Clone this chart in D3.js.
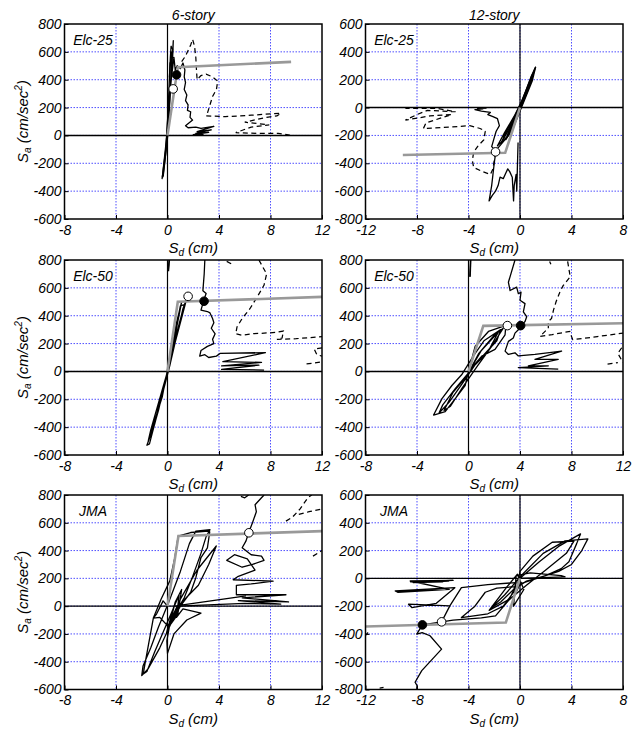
<!DOCTYPE html>
<html>
<head>
<meta charset="utf-8">
<script src="https://cdn.jsdelivr.net/npm/d3@7"></script>
<style>
  body { margin: 0; background: #fff; }
  text { font-family: "Liberation Sans", Arial, sans-serif; font-style: italic; fill: #000; }
</style>
</head>
<body>
<div id="chart"></div>
<script>
// tick values
const xTicksA = [-8, -4, 0, 4, 8, 12];
const xTicksB = [-12, -8, -4, 0, 4, 8];
const yTicksA = [-600, -400, -200, 0, 200, 400, 600, 800];
const yTicksB = [-800, -600, -400, -200, 0, 200, 400, 600];

const colTitles = ["6-story", "12-story"];
const rowLabels = ["Elc-25", "Elc-50", "JMA"];

// ---- 6-story, Elc-25
const gray1 = [[0, 0], [0.8, 490], [9.6, 528]];
const solid1 = [
  [[0, 0], [-0.42, -310], [-0.3, -240], [0.05, 50], [0.3, 450], [0.45, 680], [0.4, 560], [0.2, 520], [0.15, 420],
   [0.3, 600], [0.35, 480], [0.1, 250], [-0.1, -100], [-0.35, -290], [-0.2, -180], [0.15, 300], [0.5, 560],
   [0.6, 470], [0.75, 500], [1.0, 480], [1.2, 520], [1.35, 470], [1.3, 420], [1.4, 380], [1.3, 330], [1.5, 290],
   [1.4, 250], [1.6, 220], [1.55, 180], [1.8, 170], [1.75, 130], [1.95, 110], [1.4, 70], [1.6, 55], [2.2, 60],
   [2.6, 50], [3.6, 65], [2.3, 28], [3.4, 40], [2.2, 15], [3.2, 22], [2.0, 5], [2.8, 8]],
  [[0, 0], [-0.38, -300], [-0.33, -290], [0.02, 0], [0.25, 380], [0.4, 620], [0.28, 640], [0.22, 560],
   [0.1, 300], [-0.05, 0], [-0.4, -300]]
];
const dashed1 = [
  [[1.1, 530], [1.4, 570], [1.55, 600], [1.8, 650], [1.95, 690], [2.1, 640], [2.2, 560], [2.25, 470], [2.3, 400],
   [2.6, 430], [3.0, 440], [3.5, 420], [3.9, 390], [3.8, 330], [3.5, 280], [3.3, 220], [3.1, 160], [3.0, 140],
   [4.5, 135], [6.5, 145], [8.8, 160], [8.5, 140], [7.7, 130], [6.0, 95], [7.0, 85], [7.9, 75], [6.5, 60],
   [5.3, 20], [7.0, 15], [8.6, 15], [9.5, 3]]
];
const open1 = [0.44, 334];
const filled1 = [0.7, 435];

// ---- 12-story, Elc-25
const gray2 = [[0, 0], [-1.15, -325], [-9.1, -340]];
const solid2 = [
  [[0, 0], [1.2, 290], [0.6, 120], [-0.5, -130], [-1.0, -210], [-0.6, -120], [0.3, 80], [1.1, 270], [0.9, 200],
   [-0.2, -50], [-1.3, -220], [-1.5, -260], [-1.0, -180], [0.2, 60], [1.0, 250], [1.15, 280], [0.5, 130],
   [-0.8, -190], [-1.8, -300], [-1.9, -330], [-2.0, -400], [-2.1, -480], [-2.2, -560], [-2.4, -670],
   [-2.15, -630], [-1.9, -600], [-1.7, -560], [-1.55, -500], [-1.3, -510], [-1.1, -470], [-0.95, -440],
   [-0.8, -460], [-0.6, -500], [-0.5, -670], [-0.45, -560], [-0.3, -480], [-0.25, -600], [-0.2, -420], [-0.15, -250]],
  [[-1.3, -216], [-0.7, -110], [0.1, 40], [0.8, 200], [1.21, 289], [0.95, 190], [0.2, 20], [-0.5, -140],
   [-1.1, -230], [-0.6, -100], [0.4, 100], [1.05, 250], [0.7, 140], [-0.1, -30], [-0.9, -200], [-1.75, -275],
   [-1.2, -180], [0.0, 10], [0.9, 230], [1.15, 270]],
  [[-1.9, -310], [-2.2, -280], [-1.95, -200], [-1.85, -170], [-1.6, -130], [-1.75, -80], [-2.1, -65], [-2.5, -50],
   [-2.3, -35], [-3.0, -25], [-3.5, -15], [-2.9, -10], [-3.3, -5], [-2.6, -3]]
];
const dashed2 = [
  [[-1.9, -320], [-2.0, -380], [-2.1, -440], [-2.3, -480], [-2.9, -460], [-3.6, -430], [-3.7, -380], [-3.6, -320],
   [-3.3, -280], [-2.8, -230], [-2.7, -170], [-3.1, -150], [-3.9, -130], [-5.5, -140], [-7.5, -150], [-7.3, -110],
   [-5.3, -50], [-7.0, -60], [-8.9, -90], [-8.0, -50], [-7.2, -20], [-5.0, -30], [-6.5, -5], [-8.9, -5]]
];
const open2 = [-1.9, -318];
const filled2 = null;

// ---- 6-story, Elc-50
const gray3 = [[0, 0], [0.8, 500], [12, 535]];
const solid3 = [
  [[0, 0], [1.5, 525], [1.2, 450], [0.2, 50], [-1.0, -380], [-1.6, -530], [-1.4, -520], [-0.5, -200], [0.5, 200],
   [1.3, 480], [1.0, 470], [-0.1, -40], [-1.2, -440], [-0.7, -280], [0.3, 120], [1.1, 500], [0.7, 350],
   [-0.4, -180], [-1.5, -500], [-1.3, -420], [0, 0]],
  [[2.9, 800], [2.85, 700], [2.75, 580], [3.0, 560], [2.85, 520], [2.6, 440], [3.1, 430], [3.3, 420], [3.5, 380],
   [3.6, 350], [3.4, 310], [3.7, 270], [3.5, 230], [3.6, 200], [3.1, 180], [2.6, 150], [2.5, 110], [2.9, 120],
   [3.2, 100], [3.8, 110], [4.1, 130], [7.6, 135], [4.3, 70], [7.3, 65], [4.2, 40], [7.1, 45], [4.2, 15], [7.5, 10]],
  [[0.05, 720], [0.12, 800]],
  [[0.08, 720], [0.15, 800]]
];
const dashed3 = [
  [[4.6, 790], [5.0, 770]],
  [[7.1, 800], [7.4, 750], [7.7, 700], [7.5, 620], [7.0, 540], [6.4, 450], [5.8, 380], [5.4, 320], [5.3, 270],
   [5.8, 260], [6.5, 270], [7.5, 275], [8.4, 280], [9.0, 290], [8.9, 240], [8.5, 230], [10.0, 235], [12, 250]],
  [[12, 170], [11.4, 160], [11.6, 120], [12, 110]],
  [[10.8, 55], [11.4, 60], [12, 70]]
];
const open3 = [1.6, 539];
const filled3 = [2.84, 504];

// ---- 12-story, Elc-50
const gray4 = [[0, 0], [1.15, 327], [12, 346]];
const solid4 = [
  [[0, 0], [0.52, 181], [1.55, 287], [2.9, 330], [2.84, 263], [2.06, 158], [1.03, 110], [0, 0], [-0.26, -101],
   [-1.03, -195], [-1.81, -289], [-2.71, -313], [-2.06, -195], [-1.29, -101], [-0.5, -20], [0.3, 100], [1.2, 220],
   [2.5, 300], [2.2, 220], [1.5, 150], [0.6, 60], [-0.5, -90], [-1.5, -220], [-2.3, -300], [-2.0, -240],
   [-1.0, -120], [0, -10], [0.8, 130], [2.0, 260], [2.7, 310], [1.8, 180], [0.7, 40], [-0.5, -120],
   [-1.4, -250], [-1.9, -280], [-1.2, -150], [-0.2, -40], [1.0, 150], [2.3, 280], [1.5, 140], [0, 0]],
  [[3.61, 800], [3.10, 640], [3.23, 581], [3.74, 605], [3.87, 558], [4.08, 569], [4.0, 511], [4.39, 487],
   [4.26, 428], [4.52, 393], [4.39, 358], [4.08, 329], [3.87, 299], [3.61, 275], [3.48, 240], [3.1, 216],
   [2.84, 146], [3.1, 122], [3.61, 134], [3.87, 111], [5.16, 122], [7.23, 146], [5.16, 87], [6.97, 87],
   [4.65, 40], [6.2, 40], [3.87, 28], [6.97, 16]],
  [[0.1, 680], [0.15, 800]],
  [[0.13, 680], [0.18, 800]]
];
const dashed4 = [
  [[6.3, 790], [6.4, 770]],
  [[7.7, 790], [7.9, 680], [7.35, 616], [7.1, 570], [6.8, 500], [6.6, 440], [6.45, 380], [6.2, 358], [6.2, 310],
   [5.55, 252], [6.5, 265], [7.87, 287], [8.0, 250], [8.1, 228], [10, 250], [12, 275]],
  [[11.9, 170], [11.6, 130], [12, 64]],
  [[10.8, 52], [11.6, 64]]
];
const open4 = [3.02, 329];
const filled4 = [4.05, 329];

// ---- 6-story, JMA
const gray5 = [[0, 0], [0.85, 505], [12, 540]];
const solid5 = [
  [[0, 0], [-0.34, 38], [-0.85, -57], [-1.1, -86], [-1.75, -416], [-1.88, -488], [-1.6, -470], [-1.0, -330],
   [-0.4, -200], [0.3, -50], [0.9, 80], [0.7, -80], [1.2, -20], [2.6, -50], [1.5, -100], [0.5, -200], [0, -340],
   [-0.05, -250], [0.2, -120], [0.6, 30], [1.1, 120], [0.8, -60], [0.1, -150], [-0.6, -81], [-1.1, -86],
   [-0.5, 50], [0.18, 182], [0.57, 349], [0.83, 504], [1.8, 530], [3.15, 540], [3.28, 535], [3.1, 420],
   [2.6, 350], [2.2, 205], [1.8, 100], [1.0, 0], [0.3, -120], [-0.6, -300], [-1.5, -450], [-2.0, -500],
   [-1.9, -430], [-1.3, -300], [-0.7, -150], [0.1, 30], [1.0, 250], [1.7, 450], [2.2, 540], [3.3, 550],
   [3.0, 500], [2.6, 380], [1.9, 200], [1.3, 60], [0.6, -50], [0, -150], [1.0, 50], [2.3, 260], [3.79, 433],
   [3.2, 300], [2.4, 150], [1.47, 62], [0.5, -50], [-0.1, -200], [0.5, 0], [6.1, 74]],
  [[6.3, 528], [6.6, 600], [6.9, 680], [6.8, 730], [7.3, 780], [7.5, 800]],
  [[6.3, 528], [6.1, 470], [5.8, 420], [6.5, 370], [7.3, 360], [7.5, 330], [6.6, 300], [5.8, 280], [4.6, 330],
   [5.2, 370], [6.2, 340], [6.8, 260], [5.5, 215], [5.1, 190], [8.2, 180], [6.5, 160], [5.35, 150], [5.35, 82],
   [9.2, 82], [5.8, 60], [9.4, 30], [5.5, 40], [8.8, 15], [6.0, 20], [0.8, 0]],
  [[5.7, 790], [6.0, 780], [6.3, 800]]
];
const dashed5 = [
  [[9.2, 612], [9.7, 640], [10.3, 700], [10.9, 780], [11.2, 800]],
  [[10.2, 660], [11.0, 680], [12, 700]],
  [[11.3, 360], [12, 400]]
];
const open5 = [6.32, 528];
const filled5 = null;

// ---- 12-story, JMA
const gray6 = [[0, 0], [-1.1, -318], [-12, -346]];
const solid6 = [
  [[0, 0], [1.5, 120], [3.0, 230], [4.7, 320], [4.4, 250], [3.8, 120], [3.2, 70], [2.0, 20], [0.5, -20],
   [-0.5, -80], [-1.5, -170], [-2.2, -210], [-1.2, -120], [0.2, 30], [1.8, 180], [3.5, 270], [5.27, 284],
   [4.8, 200], [4.0, 100], [3.0, 50], [1.5, 5], [0, -40], [-0.3, -100], [0, 50], [1, 160], [2.5, 260],
   [4.19, 268], [3.6, 180], [2.0, 60], [0.5, -50], [-0.8, -150], [-1.8, -200], [-2.4, -230], [-1.0, -60],
   [-0.2, 30], [0.3, -80], [-0.5, -200], [-0.3, 20], [0.8, 40], [3.2, 20], [3.5, 10], [0, 0]],
  [[-6.09, -313], [-5.45, -198], [-4.55, -67], [-2.5, -45], [-0.3, -30], [-0.5, -100], [-1.3, -200],
   [-2.5, -255], [-4.55, -282], [-3.5, -200], [-2.7, -100], [-1.8, -70], [-0.4, -60], [-0.8, -150],
   [-1.9, -270], [-3.0, -285], [-5.2, -300], [-6.09, -313]],
  [[-5.45, -198], [-8.66, -186], [-8.4, -210], [-6.5, -180], [-5.06, -67], [-9.69, -91], [-9.5, -100],
   [-5.5, -80], [-8.53, -19], [-5.19, -14], [-8.5, -25], [-6.0, -25], [-8.3, -30], [-5.5, -20]],
  [[-6.09, -313], [-7.58, -335], [-8.02, -401], [-7.6, -390], [-6.99, -413], [-6.09, -509], [-7.63, -664],
   [-8.15, -748], [-8.0, -770], [-8.02, -800]],
  [[-10.9, -790], [-10.6, -785]],
  [[-12, -410], [-11.8, -390]]
];
const dashed6 = [];
const open6 = [-6.09, -313];
const filled6 = [-7.58, -335];

// layout
const width = 637, height = 729;
const colX = [[64.5, 322], [365.5, 623]];
const rowY = [[24, 219], [260, 455], [495, 689.5]];

const panels = [
  {row: 0, col: 0, xd: [-8, 12], yd: [-600, 800], xt: xTicksA, yt: yTicksA, gray: gray1, solid: solid1, dashed: dashed1, open: open1, filled: filled1},
  {row: 0, col: 1, xd: [-12, 8], yd: [-800, 600], xt: xTicksB, yt: yTicksB, gray: gray2, solid: solid2, dashed: dashed2, open: open2, filled: filled2},
  {row: 1, col: 0, xd: [-8, 12], yd: [-600, 800], xt: xTicksA, yt: yTicksA, gray: gray3, solid: solid3, dashed: dashed3, open: open3, filled: filled3},
  {row: 1, col: 1, xd: [-8, 12], yd: [-600, 800], xt: xTicksA, yt: yTicksA, gray: gray4, solid: solid4, dashed: dashed4, open: open4, filled: filled4},
  {row: 2, col: 0, xd: [-8, 12], yd: [-600, 800], xt: xTicksA, yt: yTicksA, gray: gray5, solid: solid5, dashed: dashed5, open: open5, filled: filled5},
  {row: 2, col: 1, xd: [-12, 8], yd: [-800, 600], xt: xTicksB, yt: yTicksB, gray: gray6, solid: solid6, dashed: dashed6, open: open6, filled: filled6}
];

const svg = d3.select("#chart").append("svg")
  .attr("width", width)
  .attr("height", height);

panels.forEach((p, i) => {
  const [x0, x1] = colX[p.col];
  const [y0, y1] = rowY[p.row];
  const x = d3.scaleLinear().domain(p.xd).range([x0, x1]);
  const y = d3.scaleLinear().domain(p.yd).range([y1, y0]);

  const g = svg.append("g");

  svg.append("clipPath").attr("id", "clip" + i)
    .append("rect").attr("x", x0).attr("y", y0).attr("width", x1 - x0).attr("height", y1 - y0);

  // blue dotted grid
  g.selectAll(".vgrid").data(p.xt.slice(1, -1)).join("line")
    .attr("x1", d => x(d)).attr("x2", d => x(d))
    .attr("y1", y0).attr("y2", y1)
    .attr("stroke", "#3b3bff").attr("stroke-width", 0.9).attr("stroke-dasharray", "1.5,1.5");
  g.selectAll(".hgrid").data(p.yt.slice(1, -1)).join("line")
    .attr("y1", d => y(d)).attr("y2", d => y(d))
    .attr("x1", x0).attr("x2", x1)
    .attr("stroke", "#3b3bff").attr("stroke-width", 0.9).attr("stroke-dasharray", "1.5,1.5");

  // zero axes
  g.append("line").attr("x1", x(0)).attr("x2", x(0)).attr("y1", y0).attr("y2", y1)
    .attr("stroke", "#000").attr("stroke-width", 1.2);
  g.append("line").attr("x1", x0).attr("x2", x1).attr("y1", y(0)).attr("y2", y(0))
    .attr("stroke", "#000").attr("stroke-width", 1.4);

  const line = d3.line().x(d => x(d[0])).y(d => y(d[1]));
  const data = g.append("g").attr("clip-path", "url(#clip" + i + ")");

  data.selectAll(".dash").data(p.dashed).join("path")
    .attr("d", line).attr("fill", "none")
    .attr("stroke", "#000").attr("stroke-width", 1.25).attr("stroke-dasharray", "5,3.5");

  data.selectAll(".solid").data(p.solid).join("path")
    .attr("d", line).attr("fill", "none")
    .attr("stroke", "#000").attr("stroke-width", 1.3).attr("stroke-linejoin", "round");

  data.append("path").attr("d", line(p.gray)).attr("fill", "none")
    .attr("stroke", "#999").attr("stroke-width", 2.6);

  if (p.open) {
    data.append("circle").attr("cx", x(p.open[0])).attr("cy", y(p.open[1])).attr("r", 4.3)
      .attr("fill", "#fff").attr("stroke", "#000").attr("stroke-width", 1);
  }
  if (p.filled) {
    data.append("circle").attr("cx", x(p.filled[0])).attr("cy", y(p.filled[1])).attr("r", 4.3)
      .attr("fill", "#000").attr("stroke", "#000").attr("stroke-width", 1);
  }

  // axes with inward ticks
  const fmt = d => String(d);
  const ax = g.append("g").attr("transform", "translate(0," + y1 + ")")
    .call(d3.axisBottom(x).tickValues(p.xt).tickFormat(fmt).tickSizeInner(-4).tickSizeOuter(0).tickPadding(6));
  const ay = g.append("g").attr("transform", "translate(" + x0 + ",0)")
    .call(d3.axisLeft(y).tickValues(p.yt).tickFormat(fmt).tickSizeInner(-4).tickSizeOuter(0).tickPadding(3));
  [ax, ay].forEach(a => {
    a.select(".domain").remove();
    a.selectAll("text").attr("font-size", 14).attr("font-family", null);
  });

  // frame
  g.append("rect").attr("x", x0).attr("y", y0).attr("width", x1 - x0).attr("height", y1 - y0)
    .attr("fill", "none").attr("stroke", "#000").attr("stroke-width", 1.5);

  // panel label
  g.append("text").attr("x", x0 + 28.5).attr("y", y0 + 21)
    .attr("text-anchor", "middle").attr("font-size", 14).text(rowLabels[p.row]);

  // x label
  const xl = g.append("text").attr("x", (x0 + x1) / 2).attr("y", y1 + 34)
    .attr("text-anchor", "middle").attr("font-size", 15);
  xl.append("tspan").text("S");
  xl.append("tspan").attr("font-size", 10).attr("dy", 3).text("d");
  xl.append("tspan").attr("dy", -3).text(" (cm)");

  // column titles
  if (p.row === 0) {
    g.append("text").attr("x", (x0 + x1) / 2).attr("y", 19.5)
      .attr("text-anchor", "middle").attr("font-size", 14).text(colTitles[p.col]);
  }

  // y label on left column
  if (p.col === 0) {
    const yl = g.append("text")
      .attr("transform", "translate(28," + ((y0 + y1) / 2) + ") rotate(-90)")
      .attr("text-anchor", "middle").attr("font-size", 15);
    yl.append("tspan").text("S");
    yl.append("tspan").attr("font-size", 10).attr("dy", 3).text("a");
    yl.append("tspan").attr("dy", -3).text(" (cm/sec");
    yl.append("tspan").attr("font-size", 10).attr("dy", -6).text("2");
    yl.append("tspan").attr("dy", 6).text(")");
  }
});
</script>
</body>
</html>
